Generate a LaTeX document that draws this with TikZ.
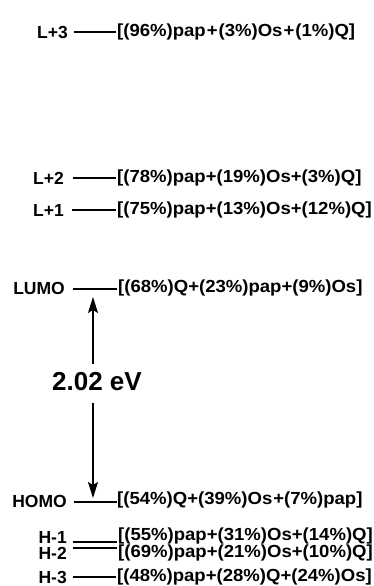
\documentclass[tikz,border=0pt]{standalone}
\usepackage{fontspec}
\setmainfont{Liberation Sans}
\newfontfamily\widefont[FakeStretch=1.06]{Liberation Sans}
\usetikzlibrary{arrows.meta}
\begin{document}
\begin{tikzpicture}[x=1pt,y=-1pt,
  lvl/.style={line width=1.2pt},
  lab/.style={anchor=east,inner sep=0pt,font=\fontsize{17.5}{17.5}\selectfont\bfseries},
  comp/.style={anchor=west,inner sep=0pt,font=\widefont\fontsize{17.5}{18}\selectfont\bfseries},
  gap/.style={line width=1.4pt,-{Stealth[length=16pt,width=10pt,inset=3pt]}}]
\useasboundingbox (0,0) rectangle (374,586);
% L+3
\coordinate (l3a) at (74,32); \coordinate (l3b) at (116,32);
\draw[lvl] (l3a) -- (l3b);
\node[lab] (l3) at (68,32) {L+3};
\node[comp] (l3t) at (117,32) {[(96\%)pap\hspace{1pt}+\hspace{1pt}(3\%)Os\hspace{1pt}+\hspace{1pt}(1\%)Q]};
% L+2
\coordinate (l2a) at (73,178); \coordinate (l2b) at (116,178);
\draw[lvl] (l2a) -- (l2b);
\node[lab] (l2) at (64,178) {L+2};
\node[comp] (l2t) at (117,178) {[(78\%)pap+(19\%)Os+(3\%)Q]};
% L+1
\coordinate (l1a) at (72,210); \coordinate (l1b) at (116,210);
\draw[lvl] (l1a) -- (l1b);
\node[lab] (l1) at (64,210) {L+1};
\node[comp] (l1t) at (117,210) {[(75\%)pap+(13\%)Os+(12\%)Q]};
% LUMO
\coordinate (lua) at (73,289); \coordinate (lub) at (117,289);
\draw[lvl] (lua) -- (lub);
\node[lab] (lu) at (65,288) {LUMO};
\node[comp] (lut) at (118,288) {[(68\%)Q+(23\%)pap+(9\%)Os]};
% HOMO
\coordinate (hoa) at (74,502); \coordinate (hob) at (117,502);
\draw[lvl] (hoa) -- (hob);
\node[lab] (ho) at (67,501) {HOMO};
\node[comp] (hot) at (117,500) {[(54\%)Q+(39\%)Os\hspace{1pt}+(7\%)pap]};
% H-1, H-2
\coordinate (h1a) at (73,542); \coordinate (h1b) at (117,542);
\coordinate (h2a) at (73,548); \coordinate (h2b) at (117,548);
\draw[lvl] (h1a) -- (h1b);
\draw[lvl] (h2a) -- (h2b);
\node[lab] (h1) at (67,537) {H-1};
\node[lab] (h2) at (67,553) {H-2};
\node[comp] (h1t) at (118,536) {[(55\%)pap+(31\%)Os+(14\%)Q]};
\node[comp] (h2t) at (118,553) {[(69\%)pap+(21\%)Os+(10\%)Q]};
% H-3
\coordinate (h3a) at (73,577); \coordinate (h3b) at (116,577);
\draw[lvl] (h3a) -- (h3b);
\node[lab] (h3) at (67,577) {H-3};
\node[comp] (h3t) at (117,577) {[(48\%)pap+(28\%)Q+(24\%)Os]};
% gap
\node[inner sep=0pt,font=\fontsize{26}{26}\selectfont\bfseries] (gapt) at (97,382) {2.02 eV};
\coordinate (upt) at (93,297); \coordinate (upb) at (93,364);
\coordinate (dnt) at (93,403); \coordinate (dnb) at (93,498);
\draw[gap] (upb) -- (upt);
\draw[gap] (dnt) -- (dnb);
\end{tikzpicture}
\end{document}
